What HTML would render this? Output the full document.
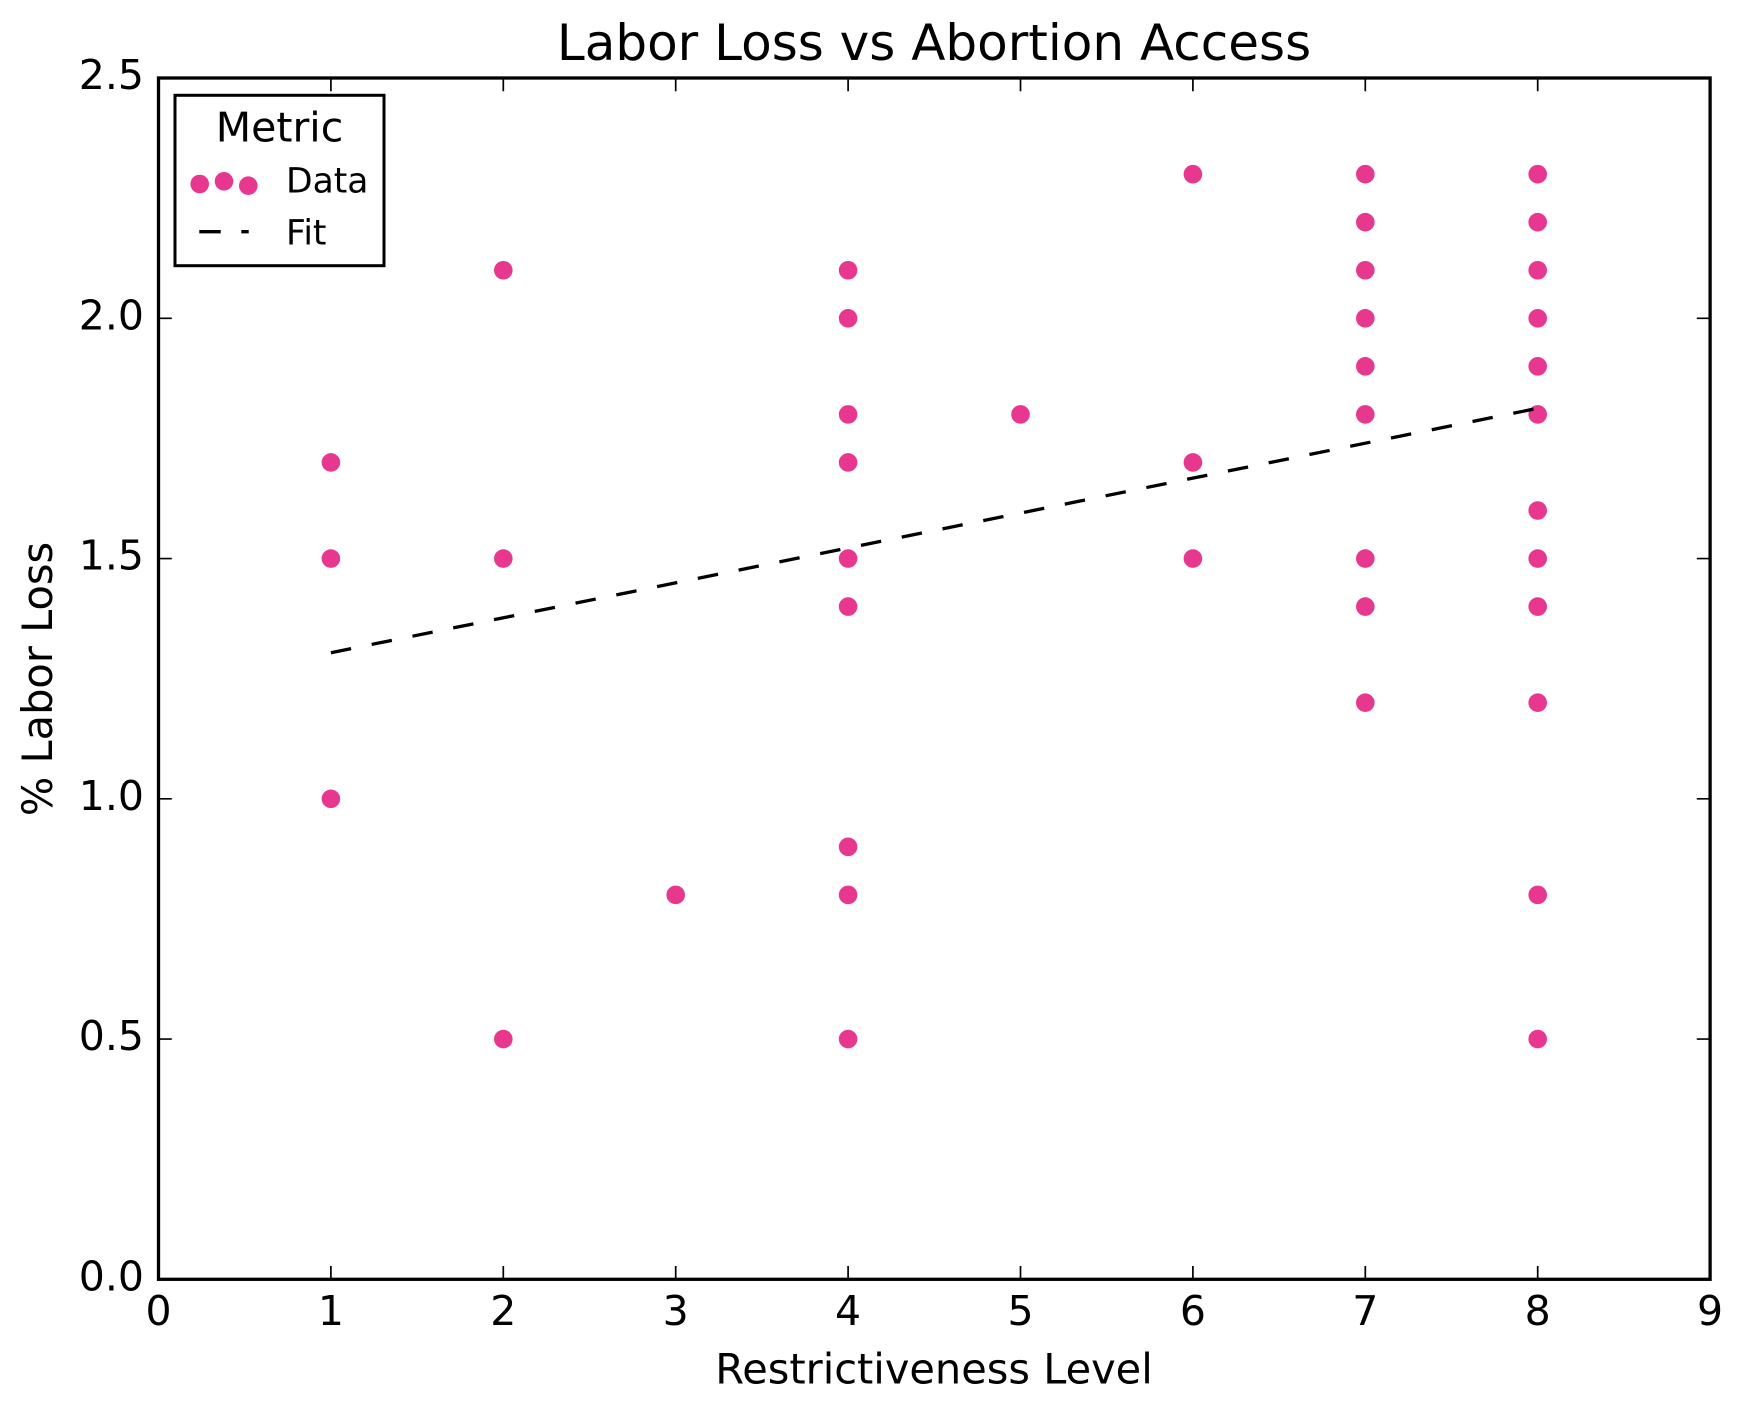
<!DOCTYPE html>
<html>
<head>
<meta charset="utf-8">
<style>
  html, body { margin: 0; padding: 0; background: #ffffff; }
  svg { display: block; }
  text { font-family: "DejaVu Sans", "Liberation Sans", sans-serif; fill: #000; }
</style>
</head>
<body>
<svg width="1746" height="1406" viewBox="0 0 1746 1406" xmlns="http://www.w3.org/2000/svg">
  <defs>
    <marker id="dot" markerWidth="20" markerHeight="20" refX="10" refY="10" markerUnits="userSpaceOnUse">
      <circle cx="10" cy="10" r="9.3" fill="#e8378f"/>
    </marker>
  </defs>
  <rect x="0" y="0" width="1746" height="1406" fill="#ffffff"/>

  <text x="934" y="60" font-size="50" text-anchor="middle">Labor Loss vs Abortion Access</text>

  <polyline fill="none" stroke="none" marker-start="url(#dot)" marker-mid="url(#dot)" marker-end="url(#dot)"
    points="330.9,462.45 330.9,558.55 330.9,798.8 503.3,270.25 503.3,558.55 503.3,1039.05 675.7,894.9 848.1,270.25 848.1,318.3 848.1,414.4 848.1,462.45 848.1,558.55 848.1,606.6 848.1,846.85 848.1,894.9 848.1,1039.05 1020.5,414.4 1192.9,174.15 1192.9,462.45 1192.9,558.55 1365.3,174.15 1365.3,222.2 1365.3,270.25 1365.3,318.3 1365.3,366.35 1365.3,414.4 1365.3,558.55 1365.3,606.6 1365.3,702.7 1537.7,174.15 1537.7,222.2 1537.7,270.25 1537.7,318.3 1537.7,366.35 1537.7,414.4 1537.7,510.5 1537.7,558.55 1537.7,606.6 1537.7,702.7 1537.7,894.9 1537.7,1039.05"/>

  <line x1="330.9" y1="652.7" x2="1537.7" y2="408.3" stroke="#000" stroke-width="3.3" stroke-dasharray="20.6 21"/>

  <path fill="none" stroke="#000" stroke-width="1.7"
    d="M330.9 1279.3v-13.3M503.3 1279.3v-13.3M675.7 1279.3v-13.3M848.1 1279.3v-13.3M1020.5 1279.3v-13.3M1192.9 1279.3v-13.3M1365.3 1279.3v-13.3M1537.7 1279.3v-13.3
       M330.9 78v13.3M503.3 78v13.3M675.7 78v13.3M848.1 78v13.3M1020.5 78v13.3M1192.9 78v13.3M1365.3 78v13.3M1537.7 78v13.3
       M158.5 1039.05h13.3M158.5 798.8h13.3M158.5 558.55h13.3M158.5 318.3h13.3
       M1710.1 1039.05h-13.3M1710.1 798.8h-13.3M1710.1 558.55h-13.3M1710.1 318.3h-13.3"/>

  <rect x="158.5" y="78" width="1551.6" height="1201.3" fill="none" stroke="#000" stroke-width="3.3"/>

  <g font-size="41" text-anchor="middle">
    <text x="158.5" y="1325">0</text>
    <text x="330.9" y="1325">1</text>
    <text x="503.3" y="1325">2</text>
    <text x="675.7" y="1325">3</text>
    <text x="848.1" y="1325">4</text>
    <text x="1020.5" y="1325">5</text>
    <text x="1192.9" y="1325">6</text>
    <text x="1365.3" y="1325">7</text>
    <text x="1537.7" y="1325">8</text>
    <text x="1710.1" y="1325">9</text>
  </g>

  <g font-size="41" text-anchor="end">
    <text x="144" y="1290.3">0.0</text>
    <text x="144" y="1050.05">0.5</text>
    <text x="144" y="809.8">1.0</text>
    <text x="144" y="569.55">1.5</text>
    <text x="144" y="329.3">2.0</text>
    <text x="144" y="89.05">2.5</text>
  </g>

  <text x="934" y="1383.3" font-size="41.5" text-anchor="middle">Restrictiveness Level</text>
  <text transform="translate(52,679) rotate(-90)" font-size="41.5" text-anchor="middle">% Labor Loss</text>

  <rect x="175" y="95.3" width="209" height="170.4" fill="#ffffff" stroke="#000" stroke-width="3"/>
  <text x="279.5" y="141.7" font-size="41" text-anchor="middle">Metric</text>
  <polyline fill="none" stroke="none" marker-start="url(#dot)" marker-mid="url(#dot)" marker-end="url(#dot)"
    points="199.7,184 224,181.3 248.3,185.7"/>
  <text x="286" y="192.7" font-size="34.5">Data</text>
  <line x1="199.3" y1="231.7" x2="248.7" y2="231.7" stroke="#000" stroke-width="3.3" stroke-dasharray="21.4 20.6"/>
  <text x="286" y="244.3" font-size="34.5">Fit</text>
</svg>
</body>
</html>
